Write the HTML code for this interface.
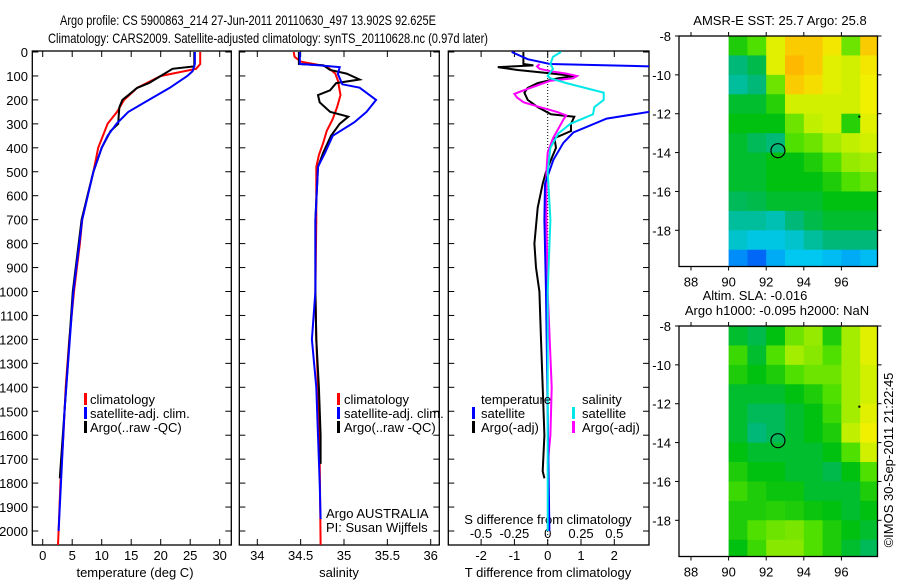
<!DOCTYPE html>
<html><head><meta charset="utf-8"><style>
html,body{margin:0;padding:0;background:#fff;}
svg{display:block;font-family:"Liberation Sans",sans-serif;}
text{font-size:13px;fill:#000;}
</style></head><body>
<svg id="c" width="900" height="580" viewBox="0 0 900 580" xmlns="http://www.w3.org/2000/svg">
<text x="60" y="25" style="font-size:14px" textLength="376" lengthAdjust="spacingAndGlyphs">Argo profile: CS 5900863_214 27-Jun-2011 20110630_497 13.902S 92.625E</text>
<text x="48" y="43" style="font-size:14px" textLength="440" lengthAdjust="spacingAndGlyphs">Climatology: CARS2009. Satellite-adjusted climatology: synTS_20110628.nc (0.97d later)</text>
<g id="g"></g>
<text transform="translate(893,460) rotate(-90)" text-anchor="middle">©IMOS 30-Sep-2011 21:22:45</text>
</svg>
<script>
// ---------- data ----------
const tClimD=[0,50,70,100,150,200,250,300,400,500,600,700,800,900,1000,1200,1400,1600,1800,2000,2058];
const tClimV=[26.7,26.7,26.0,20.0,16.0,13.8,12.6,11.0,9.4,8.6,7.6,6.7,6.3,5.8,5.3,4.5,3.9,3.5,3.0,2.7,2.6];
const tSatD=[0,50,80,100,150,200,250,300,350,400,500,700,1000,1500,2000];
const tSatV=[25.8,25.8,25.4,24.5,21.5,18.0,14.5,12.5,11.0,10.0,8.6,6.7,5.2,3.7,2.7];
const tArgD=[0,60,70,100,130,150,180,200,230,260,300,330,400,500,700,1000,1500,1780];
const tArgV=[25.7,25.7,22.0,20.0,18.0,16.0,14.5,13.5,13.0,12.9,12.8,11.5,10.0,8.6,6.6,5.1,3.7,2.9];
const sClimD=[0,20,40,60,90,120,180,230,280,330,380,430,480,700,1000,1200,1400,1700,2058];
const sClimV=[34.42,34.43,34.5,34.8,34.9,34.93,34.96,34.92,34.87,34.8,34.76,34.71,34.68,34.68,34.67,34.68,34.7,34.72,34.73];
const sSatD=[0,50,56,63,92,135,149,200,250,293,350,422,479,700,1000,1200,1400,1800,1950];
const sSatV=[34.49,34.49,34.72,34.95,34.93,34.98,35.18,35.37,35.26,35.12,34.87,34.78,34.7,34.67,34.67,34.63,34.68,34.72,34.73];
const sArgD=[0,50,55,75,90,115,130,160,180,210,250,270,300,350,420,480,700,1000,1200,1400,1600,1720];
const sArgV=[34.48,34.48,34.76,34.84,35.03,35.18,34.91,34.84,34.7,34.72,34.84,35.05,34.95,34.85,34.76,34.7,34.67,34.67,34.68,34.71,34.73,34.73];
const dTsD=[0,30,50,63,229,278,336,379,450,550,700,1000,1500,2000];
const dTsV=[-1.08,-0.6,0.07,4.0,4.0,1.77,0.77,0.47,0.17,-0.08,-0.1,-0.05,0.0,0.05];
const dTaD=[0,50,56,63,75,85,100,110,130,150,170,200,230,260,270,300,330,360,400,450,500,550,650,800,900,1000,1200,1400,1600,1750,1780];
const dTaV=[-0.73,-0.73,-0.43,-1.5,-0.9,-0.2,0.8,0.3,-0.3,-0.6,-0.7,-0.6,-0.3,0.1,0.8,0.7,0.7,0.2,0.25,0.1,-0.05,-0.15,-0.3,-0.4,-0.35,-0.25,-0.2,-0.15,-0.1,-0.15,-0.1];
const dSsD=[0,20,50,70,100,110,130,170,200,230,260,300,340,400,500,700,1000,1500,2000];
const dSsV=[0.1,0.04,0.02,0.04,0.0,0.02,0.14,0.42,0.42,0.35,0.34,0.17,0.08,0.02,0.0,0.02,0.0,0.0,0.0];
const dSaD=[50,60,70,80,90,100,110,120,140,160,175,190,210,230,250,265,280,320,360,420,500,700,1000,1400,1600,1720];
const dSaV=[-0.06,-0.08,-0.06,0.02,0.14,0.22,0.19,0.02,-0.08,-0.18,-0.25,-0.23,-0.18,-0.06,0.07,0.14,0.12,0.08,0.04,0.0,-0.01,-0.01,0.0,0.03,0.02,0.0];
const depthTicks=[0,100,200,300,400,500,600,700,800,900,1000,1100,1200,1300,1400,1500,1600,1700,1800,1900,2000];
const tTicks=[0,5,10,15,20,25,30];
const sTicks=[34,34.5,35,35.5,36];
const dTTicks=[-2,-1,0,1,2];
const dSTicks=[-0.5,-0.25,0,0.25,0.5];
const lonTicks=[88,90,92,94,96];
const latTicks=[-8,-10,-12,-14,-16,-18];
const sstGrid=[
[0.55,0.6,0.72,0.78,0.78,0.75,0.62,0.78],
[0.45,0.48,0.72,0.8,0.78,0.72,0.7,0.75],
[0.42,0.45,0.62,0.78,0.76,0.72,0.7,0.74],
[0.5,0.5,0.56,0.7,0.7,0.7,0.7,0.74],
[0.52,0.52,0.52,0.62,0.68,0.7,0.56,0.72],
[0.5,0.47,0.45,0.6,0.62,0.66,0.68,0.7],
[0.5,0.5,0.52,0.52,0.55,0.6,0.65,0.66],
[0.5,0.5,0.52,0.52,0.52,0.55,0.6,0.62],
[0.47,0.48,0.5,0.5,0.5,0.52,0.52,0.52],
[0.42,0.42,0.4,0.45,0.48,0.5,0.5,0.5],
[0.38,0.36,0.36,0.38,0.42,0.45,0.45,0.45],
[0.25,0.18,0.3,0.35,0.35,0.33,0.3,0.33]];
const slaGrid=[
[0.5,0.48,0.52,0.62,0.65,0.55,0.66,0.72],
[0.58,0.5,0.6,0.66,0.64,0.6,0.66,0.72],
[0.55,0.52,0.55,0.6,0.62,0.62,0.66,0.7],
[0.5,0.5,0.5,0.52,0.55,0.6,0.66,0.7],
[0.5,0.47,0.47,0.5,0.52,0.58,0.66,0.72],
[0.5,0.45,0.47,0.5,0.52,0.55,0.68,0.74],
[0.52,0.5,0.5,0.5,0.5,0.52,0.6,0.7],
[0.55,0.52,0.52,0.5,0.5,0.48,0.52,0.6],
[0.58,0.55,0.53,0.53,0.5,0.5,0.5,0.55],
[0.55,0.55,0.56,0.55,0.53,0.52,0.5,0.52],
[0.55,0.6,0.62,0.63,0.6,0.55,0.52,0.5],
[0.52,0.58,0.64,0.64,0.6,0.55,0.5,0.47]];
const argoLon=92.625, argoLat=-13.902;

// ---------- helpers ----------
const NS='http://www.w3.org/2000/svg';
const G=document.getElementById('g');
function mk(tag,at,parent){const e=document.createElementNS(NS,tag);for(const k in at)e.setAttribute(k,at[k]);(parent||G).appendChild(e);return e;}
const PT=51, PB=545;
const yD=d=>52+d*0.2395;
const xT=t=>42.7+t*5.9;
const xS=s=>257.3+(s-34)*86.7;
const xDT=t=>547.7+t*33.3;
const xDS=s=>547.7+s*133.3;

function panel(name,x0,x1){
  const r=mk('rect',{x:x0,y:PT,width:x1-x0,height:PB-PT,fill:'none',stroke:'#000','stroke-width':1.3});
  
  
  depthTicks.forEach(d=>{
    mk('line',{x1:x0,x2:x0+6,y1:yD(d),y2:yD(d),stroke:'#000'});
    mk('line',{x1:x1,x2:x1-6,y1:yD(d),y2:yD(d),stroke:'#000'});
  });
  const cp=mk('clipPath',{id:'cp-'+name});
  mk('rect',{x:x0,y:PT,width:x1-x0,height:PB-PT},cp);
}
function xticks(xs,vals,labY){
  vals.forEach(v=>{
    const x=xs(v);
    mk('line',{x1:x,x2:x,y1:PB,y2:PB-6,stroke:'#000'});
    mk('line',{x1:x,x2:x,y1:PT,y2:PT+6,stroke:'#000'});
    const t=mk('text',{x:x,y:labY,'text-anchor':'middle'});
    t.textContent=String(v);
    
    
  });
}
function line(name,D,V,xs,color,clip,w){
  const pts=D.map((d,i)=>xs(V[i]).toFixed(1)+','+yD(d).toFixed(1)).join(' ');
  const p=mk('polyline',{points:pts,fill:'none',stroke:color,'stroke-width':w||2,'clip-path':'url(#cp-'+clip+')'});
  
  
}
function label(txt,x,y,name,anchor){
  const t=mk('text',{x:x,y:y,'text-anchor':anchor||'start'});
  t.textContent=txt;
  
  
  return t;
}
function legBar(x,y,color){
  const r=mk('rect',{x:x,y:y-11,width:3,height:12,fill:color});
  
  
}

// ---------- panel 1: temperature ----------
panel('temperature',32.3,231.3);
depthTicks.forEach(d=>{label(String(d),28,yD(d)+5,'y-tick-label','end');});
xticks(xT,tTicks,560);
label('temperature (deg C)',135,577,'x-axis-title-temperature','middle');
line('temp-climatology',tClimD,tClimV,xT,'#ff0000','temperature');
line('temp-argo',tArgD,tArgV,xT,'#000000','temperature');
line('temp-satellite-adj',tSatD,tSatV,xT,'#0000ff','temperature');
legBar(84,404,'#ff0000');label('climatology',90,404,'legend-climatology');
legBar(84,418,'#0000ff');label('satellite-adj. clim.',90,418,'legend-satellite-adj');
legBar(84,432,'#000000');label('Argo(..raw -QC)',90,432,'legend-argo');

// ---------- panel 2: salinity ----------
panel('salinity',239.3,439.3);
xticks(xS,sTicks,560);
label('salinity',339,577,'x-axis-title-salinity','middle');
line('sal-climatology',sClimD,sClimV,xS,'#ff0000','salinity');
line('sal-argo',sArgD,sArgV,xS,'#000000','salinity');
line('sal-satellite-adj',sSatD,sSatV,xS,'#0000ff','salinity');
legBar(337,404,'#ff0000');label('climatology',344,404,'legend-climatology');
legBar(337,418,'#0000ff');label('satellite-adj. clim.',344,418,'legend-satellite-adj');
legBar(337,432,'#000000');label('Argo(..raw -QC)',344,432,'legend-argo');
label('Argo AUSTRALIA',326,518,'argo-australia-label');
label('PI: Susan Wijffels',326,532,'pi-label');

// ---------- panel 3: differences ----------
panel('difference',448.3,649);
xticks(xDT,dTTicks,560);
dSTicks.forEach(v=>{label(String(v),xDS(v),538,'s-diff-tick-label','middle');});
label('S difference from climatology',548,524,'s-diff-axis-title','middle');
label('T difference from climatology',548,577,'t-diff-axis-title','middle');
mk('line',{x1:xDT(0),x2:xDT(0),y1:PT,y2:PB,stroke:'#000','stroke-width':1,'stroke-dasharray':'1,2'});
line('dT-argo',dTaD,dTaV,xDT,'#000000','difference');
line('dS-argo',dSaD,dSaV,xDS,'#ff00ff','difference');
line('dT-satellite',dTsD,dTsV,xDT,'#0000ff','difference');
line('dS-satellite',dSsD,dSsV,xDS,'#00e8e8','difference');
label('temperature',481,404,'legend-temperature-header');
legBar(472,418,'#0000ff');label('satellite',481,418,'legend-t-satellite');
legBar(472,432,'#000000');label('Argo(-adj)',481,432,'legend-t-argo');
label('salinity',582,404,'legend-salinity-header');
legBar(572,418,'#00e8e8');label('satellite',582,418,'legend-s-satellite');
legBar(572,432,'#ff00ff');label('Argo(-adj)',582,432,'legend-s-argo');

// ---------- maps ----------
const stops=[[0,[0,24,160]],[0.2,[0,112,255]],[0.35,[0,200,240]],[0.45,[0,184,120]],[0.52,[0,192,16]],[0.6,[80,224,0]],[0.68,[192,240,0]],[0.74,[240,240,0]],[0.8,[255,184,0]],[1,[255,60,0]]];
function cmap(v){
  for(let i=1;i<stops.length;i++){if(v<=stops[i][0]){const a=stops[i-1],b=stops[i],f=(v-a[0])/(b[0]-a[0]);
    return 'rgb('+a[1].map((c,k)=>Math.round(c+(b[1][k]-c)*f)).join(',')+')';}}
  return 'rgb(255,60,0)';
}
function map(name,top,grid,titles){
  const X0=679,X1=877.5,Y0=top,Y1=top+230.5;
  const mx=lon=>691+(lon-88)*18.8;
  const my=lat=>Y0+(-8-lat)*19.43;
  titles.forEach((t,i)=>label(t[0],t[1],top-(titles.length-i)*15+4,name+'-title-'+i,'middle'));
  const cp=mk('clipPath',{id:'cp-'+name});
  mk('rect',{x:X0,y:Y0,width:X1-X0,height:Y1-Y0},cp);
  const g=mk('g',{'clip-path':'url(#cp-'+name+')'});
  
  
  grid.forEach((row,r)=>row.forEach((v,c)=>{
    const x=mx(90+c),y=my(-8-r);
    const cell=mk('rect',{x:x,y:y,width:mx(91+c)-x+0.5,height:my(-9-r)-y+0.5,fill:cmap(v)},g);
    
    
  }));
  const f=mk('rect',{x:X0,y:Y0,width:X1-X0,height:Y1-Y0,fill:'none',stroke:'#000','stroke-width':1.3});
  
  
  lonTicks.forEach(l=>{const x=mx(l);
    mk('line',{x1:x,x2:x,y1:Y0,y2:Y0-4,stroke:'#000'});mk('line',{x1:x,x2:x,y1:Y1,y2:Y1+4,stroke:'#000'});
    label(String(l),x,Y1+20,'lon-tick-label','middle');});
  latTicks.forEach(l=>{const y=my(l);
    mk('line',{x1:X0,x2:X0-4,y1:y,y2:y,stroke:'#000'});mk('line',{x1:X1,x2:X1+4,y1:y,y2:y,stroke:'#000'});
    label(String(l),X0-8,y+5,'lat-tick-label','end');});
  const c=mk('circle',{cx:mx(argoLon),cy:my(argoLat),r:7,fill:'none',stroke:'#000','stroke-width':1.2});
  
  
  mk('rect',{x:mx(96.9),y:my(-12.1),width:2,height:2,fill:'#000'});
}
map('sst-map',36,sstGrid,[['AMSR-E SST: 25.7 Argo: 25.8',780]]);
map('sla-map',326,slaGrid,[['Altim. SLA: -0.016',755],['Argo h1000: -0.095 h2000: NaN',777]]);
</script>
</body></html>
